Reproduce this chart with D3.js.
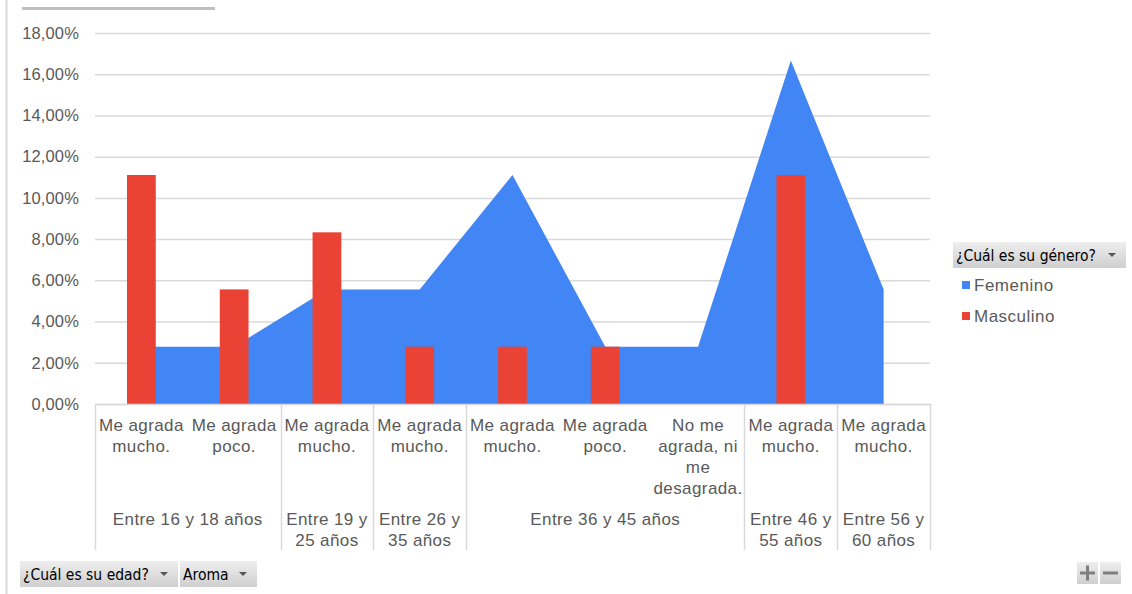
<!DOCTYPE html>
<html>
<head>
<meta charset="utf-8">
<script src="https://cdn.jsdelivr.net/npm/d3@7"></script>
<style>
  html, body { margin: 0; padding: 0; background: #fff; }
  svg { display: block; }
</style>
</head>
<body>
<svg id="chart" width="1132" height="594"></svg>
<script>
// ---- data ----
const aromas = ["Me agrada mucho.", "Me agrada poco.", "Me agrada mucho.", "Me agrada mucho.",
  "Me agrada mucho.", "Me agrada poco.", "No me agrada, ni me desagrada.", "Me agrada mucho.", "Me agrada mucho."];
const ageGroups = ["Entre 16 y 18 años", "Entre 19 y 25 años", "Entre 26 y 35 años",
  "Entre 36 y 45 años", "Entre 46 y 55 años", "Entre 56 y 60 años"];
const ageOfCategory = [0, 0, 1, 2, 3, 3, 3, 4, 5];
const femenino = [0.0278, 0.0278, 0.0556, 0.0556, 0.1111, 0.0278, 0.0278, 0.1667, 0.0556];
const masculino = [0.1111, 0.0556, 0.0833, 0.0278, 0.0278, 0.0278, 0, 0.1111, 0];
const yTicks = [0, 0.02, 0.04, 0.06, 0.08, 0.10, 0.12, 0.14, 0.16, 0.18];
const seriesNames = ["Femenino", "Masculino"];
const colors = ["#4285F4", "#EA4335"];

(function () {
const svg = d3.select("#chart");
const FONT = "'Liberation Sans', Arial, sans-serif";
const BTNFONT = "'DejaVu Sans Condensed', 'DejaVu Sans', sans-serif";
const TXT = "#595959";
const pLeft = 95, pRight = 930, pTop = 33, pBottom = 404, axisBottom = 550;

const idx = d3.range(aromas.length);
const x = d3.scaleBand().domain(idx).range([pLeft, pRight]).paddingInner(0).paddingOuter(0);
const xBar = d3.scaleBand().domain(idx).range([pLeft, pRight]).paddingInner(0.69).paddingOuter(0.345);
const y = d3.scaleLinear().domain([0, 0.18]).range([pBottom, pTop]);
const fmt = v => d3.format(".2f")(v * 100).replace(".", ",") + "%";

// outer frame bits
svg.append("line").attr("x1", 6.5).attr("x2", 6.5).attr("y1", 0).attr("y2", 594)
  .attr("stroke", "#d9d9d9").attr("stroke-width", 2);
svg.append("line").attr("x1", 22).attr("x2", 215).attr("y1", 8.5).attr("y2", 8.5)
  .attr("stroke", "#bfbfbf").attr("stroke-width", 3);

// gridlines + y axis
const yAxis = d3.axisLeft(y).tickValues(yTicks).tickFormat(fmt).tickSize(-(pRight - pLeft)).tickPadding(16);
const gy = svg.append("g").attr("transform", `translate(${pLeft},0)`).call(yAxis);
gy.select(".domain").remove();
gy.selectAll(".tick line").attr("stroke", "#d9d9d9").attr("stroke-width", 1.5);
gy.selectAll(".tick text").attr("fill", TXT).attr("font-family", FONT).attr("font-size", 16.5)
  .attr("letter-spacing", 0.15);

// area (Femenino)
const area = d3.area()
  .x(i => x(i) + x.bandwidth() / 2)
  .y0(y(0))
  .y1(i => y(femenino[i]));
svg.append("path").datum(idx).attr("d", area).attr("fill", colors[0]);

// bars (Masculino)
svg.append("g").selectAll("rect").data(idx.filter(i => masculino[i] > 0)).join("rect")
  .attr("x", i => xBar(i)).attr("width", xBar.bandwidth())
  .attr("y", i => y(masculino[i])).attr("height", i => y(0) - y(masculino[i]))
  .attr("fill", colors[1]);

// category axis
const gx = svg.append("g");
gx.append("line").attr("x1", pLeft).attr("x2", pRight).attr("y1", pBottom + 0.5).attr("y2", pBottom + 0.5)
  .attr("stroke", "#d9d9d9").attr("stroke-width", 1.5);

const groups = ageGroups.map((g, gi) => {
  const members = idx.filter(i => ageOfCategory[i] === gi);
  return { label: g, start: d3.min(members), end: d3.max(members) };
});
const boundaries = [pLeft].concat(groups.map(g => x(g.end) + x.bandwidth()));
gx.selectAll("line.sep").data(boundaries).join("line").attr("class", "sep")
  .attr("x1", d => Math.round(d) + 0.5).attr("x2", d => Math.round(d) + 0.5)
  .attr("y1", pBottom).attr("y2", axisBottom)
  .attr("stroke", "#d9d9d9").attr("stroke-width", 1.5);

function wrapText(sel, text, maxW, cx, y0, lh, fs) {
  const words = text.split(" ");
  const t = sel.append("text").attr("text-anchor", "middle").attr("fill", TXT)
    .attr("font-family", FONT).attr("font-size", fs).attr("letter-spacing", 0.4);
  let lines = [], cur = [];
  const probe = t.append("tspan");
  for (const w of words) {
    const trial = cur.concat([w]).join(" ");
    probe.text(trial);
    if (probe.node().getComputedTextLength() > maxW && cur.length) {
      lines.push(cur.join(" "));
      cur = [w];
    } else cur.push(w);
  }
  lines.push(cur.join(" "));
  probe.remove();
  lines.forEach((l, k) => t.append("tspan").attr("x", cx).attr("y", y0 + k * lh).text(l));
}

idx.forEach(i => wrapText(gx, aromas[i], x.bandwidth() - 2, x(i) + x.bandwidth() / 2, 431, 21, 17));
groups.forEach(g => {
  const x0 = x(g.start), x1 = x(g.end) + x.bandwidth();
  wrapText(gx, g.label, x1 - x0 - 2, (x0 + x1) / 2, 525, 20.5, 17);
});

// pivot-style buttons
const defs = svg.append("defs");
const grad = defs.append("linearGradient").attr("id", "btn").attr("x1", 0).attr("x2", 0).attr("y1", 0).attr("y2", 1);
grad.append("stop").attr("offset", "0%").attr("stop-color", "#eeeeee");
grad.append("stop").attr("offset", "100%").attr("stop-color", "#cfcfcf");

function button(x0, y0, w, h, label, arrow) {
  const g = svg.append("g");
  g.append("rect").attr("x", x0).attr("y", y0).attr("width", w).attr("height", h).attr("fill", "url(#btn)");
  if (label) g.append("text").attr("x", x0 + 3).attr("y", y0 + h / 2 + 5.5).attr("fill", "#000")
    .attr("font-family", BTNFONT).attr("font-size", 15.5).text(label);
  if (arrow) {
    const ax = x0 + w - 14, ay = y0 + h / 2;
    g.append("path").attr("d", `M${ax - 4},${ay - 2}L${ax + 4},${ay - 2}L${ax},${ay + 2}Z`).attr("fill", "#555");
  }
  return g;
}
button(953, 242, 173, 26, "¿Cuál es su género?", true);
button(20, 561, 158, 26, "¿Cuál es su edad?", true);
button(180, 561, 77, 26, "Aroma", true);
const bp = button(1077, 562, 21, 22, null, false);
bp.append("path").attr("d", "M1080,573H1095M1087.5,565.5V580.5").attr("stroke", "#7f7f7f").attr("stroke-width", 3);
const bm = button(1100, 562, 21, 22, null, false);
bm.append("path").attr("d", "M1103,573H1118").attr("stroke", "#7f7f7f").attr("stroke-width", 3);

// legend
const lg = svg.append("g");
seriesNames.forEach((n, k) => {
  const ly = 285 + k * 31;
  lg.append("rect").attr("x", 962).attr("y", ly - 4).attr("width", 8).attr("height", 8).attr("fill", colors[k]);
  lg.append("text").attr("x", 974).attr("y", ly + 6).attr("fill", TXT)
    .attr("font-family", FONT).attr("font-size", 17).attr("letter-spacing", 0.5).text(n);
});
})();
</script>
</body>
</html>
